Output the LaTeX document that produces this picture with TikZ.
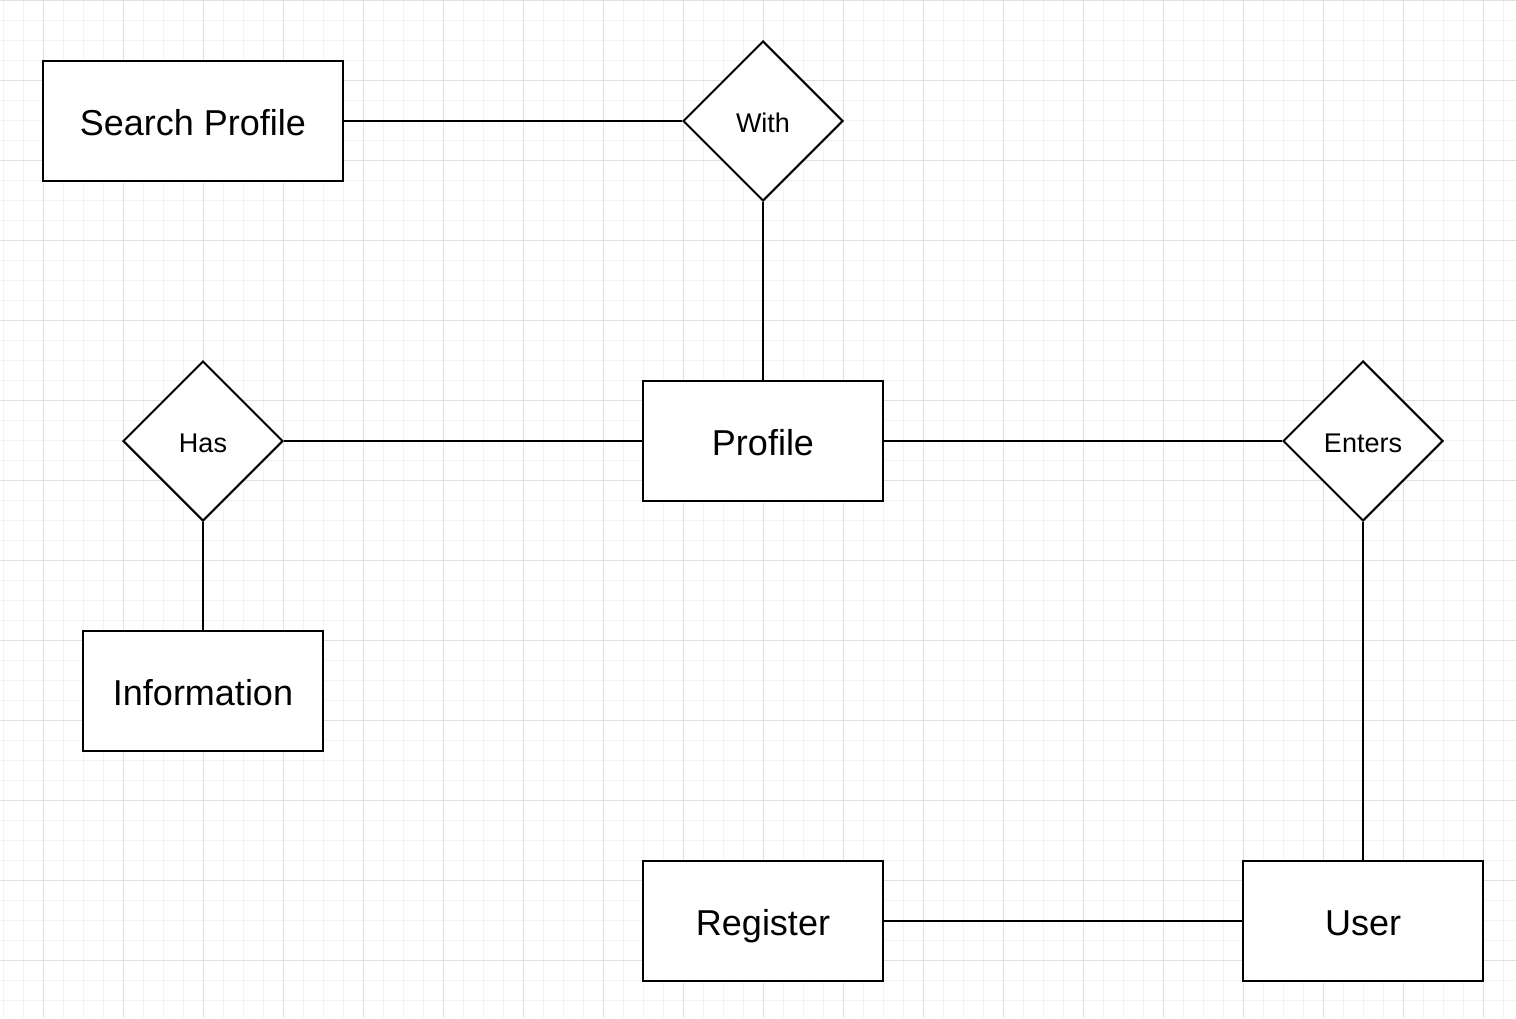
\documentclass[tikz,border=0pt]{standalone}
\usepackage{fontspec}
\setmainfont{Liberation Sans}
\usepackage{tikz}
\usetikzlibrary{shapes.geometric}
\definecolor{gridminor}{HTML}{F2F2F2}
\definecolor{gridmajor}{HTML}{E0E0E0}
\tikzset{
  entity/.style={draw,fill=white,line width=1pt,minimum width=120pt,minimum height=60pt,inner sep=0pt,text height=14.6pt,text depth=0pt,font=\fontsize{18}{20}\selectfont},
  relation/.style={draw,fill=white,diamond,aspect=1,line width=1pt,minimum width=80pt,minimum height=80pt,inner sep=0pt,text height=11.6pt,text depth=0pt,font=\fontsize{13.5}{15}\selectfont},
  link/.style={line width=1pt}
}
\begin{document}
\begin{tikzpicture}[x=0.5pt,y=-0.5pt]
            \useasboundingbox (0,0) rectangle (1516,1018);
            % background grid
            \foreach \gx in {3,23,...,1515} \draw[gridminor,line width=0.5pt] (\gx,0) -- (\gx,1018);
            \foreach \gy in {0,20,...,1018} \draw[gridminor,line width=0.5pt] (0,\gy) -- (1516,\gy);
            \foreach \gx in {43,123,...,1515} \draw[gridmajor,line width=0.5pt] (\gx,0) -- (\gx,1018);
            \foreach \gy in {0,80,...,1018} \draw[gridmajor,line width=0.5pt] (0,\gy) -- (1516,\gy);
            % entities and relations
            \node[entity,minimum width=150pt] (search) at (193,121) {Search Profile};
            \node[relation] (with) at (763,121) {With};
            \node[entity] (profile) at (763,441) {Profile};
            \node[relation] (has) at (203,441) {Has};
            \node[entity] (info) at (203,691) {Information};
            \node[relation] (enters) at (1363,441) {Enters};
            \node[entity] (register) at (763,921) {Register};
            \node[entity] (user) at (1363,921) {User};
            % links
            \draw[link] (search.east) -- (with.west);
            \draw[link] (with.south) -- (profile.north);
            \draw[link] (has.east) -- (profile.west);
            \draw[link] (has.south) -- (info.north);
            \draw[link] (profile.east) -- (enters.west);
            \draw[link] (enters.south) -- (user.north);
            \draw[link] (register.east) -- (user.west);
        \end{tikzpicture}
\end{document}
